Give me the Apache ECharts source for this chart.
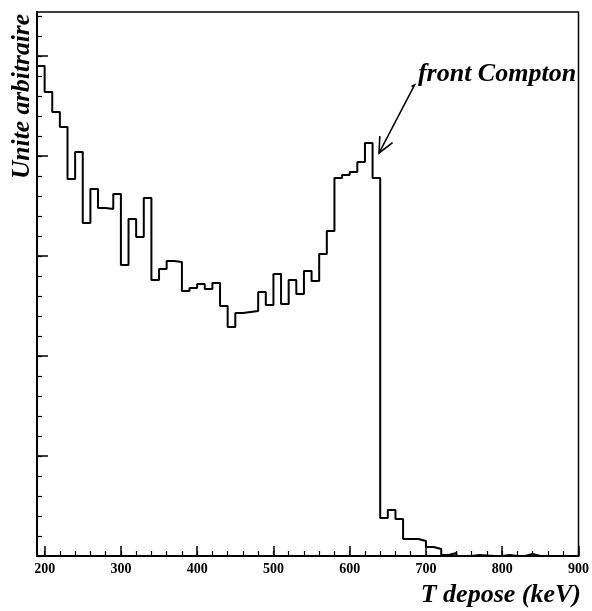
<!DOCTYPE html>
<html><head><meta charset="utf-8">
<script src="https://cdn.jsdelivr.net/npm/echarts@6/dist/echarts.min.js"></script>
<style>html,body{margin:0;padding:0;background:#fff}#c{width:592px;height:611px}</style>
</head><body><div id="c"></div>
<script>
// bin lower edges (keV), bin width 10 keV
const binLow = [190,200,210,220,230,240,250,260,270,280,290,300,310,320,330,340,350,360,370,380,
  390,400,410,420,430,440,450,460,470,480,490,500,510,520,530,540,550,560,570,580,
  590,600,610,620,630,640,650,660,670,680,690,700,710,720,730,740,750,760,770,780,
  790,800,810,820,830,840,850,860,870,880,890];
const binHigh = 900;
// contents (arbitrary units)
const counts = [490,464,444,429,377,404,333,367,348,347,362,291,337,319,358,276,287,295,294,265,
  268,272,267,273,250,229,243,244,245,264,251,282,252,276,262,285,275,302,325,378,
  381,384,394,413,378,38,46,37,17,17,15,9,7,1,3,0,0,1,0.5,0,
  0,1,0,0,2,0,0,0,0,0,0];
const xTickLabels = [200,300,400,500,600,700,800,900];
const yMajorTicks = [0,100,200,300,400,500];
const xTitle = 'T depose (keV)';
const yTitle = 'Unite arbitraire';
const annotation = 'front Compton';
const arrowFrom = [685, 471];
const arrowTo = [638.5, 403];

const xMinor = []; for (let v = 200; v <= 900; v += 20) xMinor.push(v);
const yMinor = []; for (let v = 0; v <= 540; v += 20) yMinor.push(v);

const histData = binLow.map((x, i) => [x, counts[i]]);
histData.push([binHigh, counts[counts.length - 1]]);

const FONT = '"Liberation Serif", "Times New Roman", serif';
const chart = echarts.init(document.getElementById('c'), null, {renderer: 'canvas'});
const common = {type: 'value', splitLine: {show: false}};
chart.setOption({
  animation: false,
  backgroundColor: '#fff',
  grid: {left: 37, right: 11, top: 12, bottom: 55, show: true, borderColor: '#000', borderWidth: 1.5, backgroundColor: 'transparent'},
  xAxis: [
    Object.assign({}, common, {min: 190, max: 900, position: 'bottom',
      axisLine: {show: true, lineStyle: {color: '#000', width: 2}},
      axisTick: {show: true, inside: true, length: 10, customValues: xTickLabels, lineStyle: {color: '#000', width: 1.5}},
      axisLabel: {show: true, customValues: xTickLabels, margin: 6, color: '#000', fontFamily: FONT, fontWeight: 'bold', fontSize: 14}}),
    Object.assign({}, common, {min: 190, max: 900, position: 'bottom',
      axisLine: {show: false},
      axisTick: {show: true, inside: true, length: 5, customValues: xMinor, lineStyle: {color: '#000', width: 1.2}},
      axisLabel: {show: false}})
  ],
  yAxis: [
    Object.assign({}, common, {min: 0, max: 544, position: 'left',
      axisLine: {show: true, lineStyle: {color: '#000', width: 2}},
      axisTick: {show: true, inside: true, length: 11, customValues: yMajorTicks, lineStyle: {color: '#000', width: 1.5}},
      axisLabel: {show: false}}),
    Object.assign({}, common, {min: 0, max: 544, position: 'left', offset: 0,
      axisLine: {show: false},
      axisTick: {show: true, inside: true, length: 5, customValues: yMinor, lineStyle: {color: '#000', width: 1.2}},
      axisLabel: {show: false}})
  ],
  series: [{
    type: 'line', step: 'end', data: histData, xAxisIndex: 0, yAxisIndex: 0,
    symbol: 'none', lineStyle: {color: '#000', width: 2}, clip: true
  }]
});

const p0 = chart.convertToPixel({xAxisIndex: 0, yAxisIndex: 0}, arrowFrom);
const p1 = chart.convertToPixel({xAxisIndex: 0, yAxisIndex: 0}, arrowTo);
const dx = p0[0] - p1[0], dy = p0[1] - p1[1];
const L = Math.hypot(dx, dy), ux = dx / L, uy = dy / L;
const ang = 25 * Math.PI / 180, hl = 17;
function rot(a) { return [p1[0] + hl * (ux * Math.cos(a) - uy * Math.sin(a)), p1[1] + hl * (ux * Math.sin(a) + uy * Math.cos(a))]; }

chart.setOption({
  graphic: [
    {type: 'polyline', shape: {points: [[p0[0] - 3, p0[1] + 1.5], p0, p1]}, style: {stroke: '#000', lineWidth: 1.6, fill: null}, z: 100},
    {type: 'polyline', shape: {points: [rot(ang), p1, rot(-ang)]}, style: {stroke: '#000', lineWidth: 1.6, fill: null}, z: 100},
    {type: 'text', x: 497, y: 74, style: {text: annotation, font: 'italic bold 26px ' + FONT, fill: '#000', align: 'center', verticalAlign: 'middle'}, z: 100},
    {type: 'text', x: 581, y: 595, style: {text: xTitle, font: 'italic bold 26px ' + FONT, fill: '#000', align: 'right', verticalAlign: 'middle'}, z: 100},
    {type: 'text', x: 22, y: 14, rotation: Math.PI / 2, style: {text: yTitle, font: 'italic bold 25.5px ' + FONT, fill: '#000', align: 'right', verticalAlign: 'middle'}, z: 100}
  ]
});
</script></body></html>
